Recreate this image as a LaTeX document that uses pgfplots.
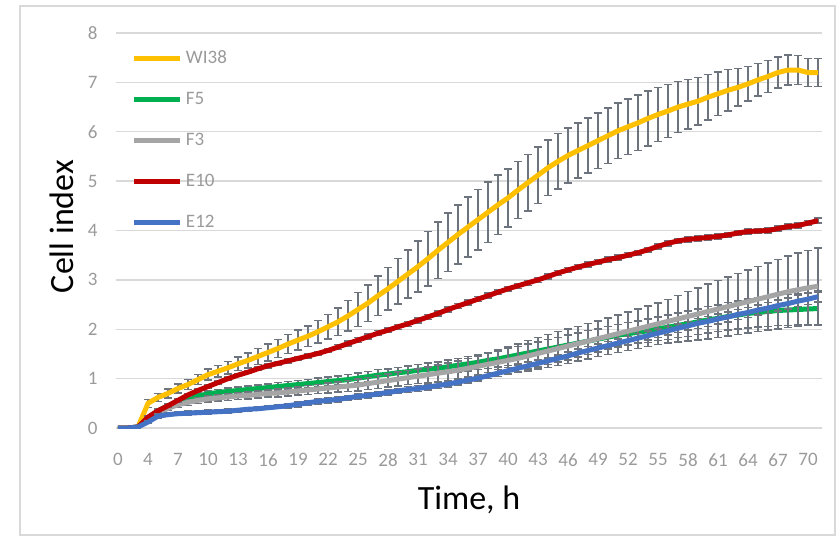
\documentclass[border=0pt]{standalone}
\usepackage{fontspec}
\setmainfont{Carlito}
\usepackage{pgfplots}
\usepackage{pgfplotstable}
\pgfplotsset{compat=1.18}
\definecolor{cw}{HTML}{FFC000}
\definecolor{cg}{HTML}{00B050}
\definecolor{cf}{HTML}{A5A5A5}
\definecolor{cr}{HTML}{C00000}
\definecolor{cb}{HTML}{4472C4}
\definecolor{ebc}{HTML}{6E747E}
\definecolor{gridc}{HTML}{D9D9D9}
\definecolor{tickc}{HTML}{9A9A9A}
\definecolor{framec}{HTML}{D9D9D9}
\pgfplotstableread{
p w we g ge f fe r re b be
0 0 0 0 0 0 0 0 0 0 0
1 0 0 0 0 0 0 0 0 0 0
2 0.02 0 0.02 0 0.02 0 0.02 0 0.02 0
3 0.50 0.08 0.20 0.04 0.15 0.04 0.22 0.03 0.12 0.03
4 0.62 0.08 0.35 0.05 0.30 0.05 0.35 0.03 0.24 0.04
5 0.70 0.09 0.45 0.05 0.40 0.05 0.45 0.03 0.27 0.04
6 0.80 0.09 0.53 0.05 0.47 0.05 0.56 0.03 0.29 0.04
7 0.88 0.10 0.60 0.06 0.52 0.06 0.67 0.03 0.30 0.04
8 0.98 0.10 0.65 0.06 0.56 0.06 0.76 0.03 0.31 0.04
9 1.08 0.11 0.69 0.06 0.59 0.06 0.84 0.03 0.32 0.04
10 1.15 0.12 0.72 0.06 0.61 0.06 0.92 0.03 0.33 0.04
11 1.22 0.13 0.74 0.07 0.63 0.07 1.00 0.03 0.34 0.04
12 1.30 0.14 0.76 0.07 0.65 0.07 1.07 0.03 0.36 0.04
13 1.37 0.15 0.78 0.07 0.66 0.07 1.13 0.03 0.38 0.04
14 1.45 0.16 0.80 0.07 0.68 0.07 1.20 0.04 0.39 0.04
15 1.53 0.17 0.82 0.07 0.70 0.07 1.26 0.04 0.41 0.04
16 1.61 0.18 0.84 0.08 0.71 0.08 1.31 0.04 0.43 0.04
17 1.70 0.19 0.86 0.08 0.73 0.08 1.36 0.04 0.45 0.04
18 1.78 0.20 0.88 0.08 0.75 0.08 1.41 0.04 0.48 0.05
19 1.86 0.21 0.90 0.08 0.77 0.09 1.46 0.04 0.51 0.05
20 1.95 0.23 0.92 0.09 0.79 0.09 1.51 0.04 0.54 0.05
21 2.05 0.25 0.94 0.09 0.81 0.10 1.57 0.04 0.56 0.05
22 2.15 0.28 0.96 0.09 0.83 0.10 1.64 0.05 0.58 0.05
23 2.27 0.31 0.98 0.10 0.85 0.11 1.71 0.05 0.61 0.05
24 2.40 0.34 1.01 0.10 0.87 0.12 1.78 0.05 0.64 0.05
25 2.53 0.37 1.04 0.10 0.90 0.12 1.85 0.05 0.66 0.05
26 2.68 0.40 1.07 0.11 0.93 0.13 1.92 0.05 0.69 0.05
27 2.82 0.43 1.09 0.11 0.96 0.13 1.98 0.05 0.72 0.05
28 2.97 0.46 1.12 0.11 0.99 0.14 2.05 0.05 0.75 0.05
29 3.12 0.49 1.14 0.12 1.02 0.14 2.11 0.05 0.78 0.06
30 3.27 0.52 1.17 0.12 1.05 0.15 2.18 0.05 0.80 0.06
31 3.43 0.55 1.19 0.13 1.08 0.16 2.25 0.05 0.83 0.06
32 3.60 0.57 1.21 0.13 1.11 0.17 2.32 0.05 0.86 0.06
33 3.76 0.59 1.24 0.14 1.14 0.18 2.40 0.05 0.89 0.06
34 3.92 0.60 1.27 0.14 1.17 0.19 2.47 0.05 0.93 0.06
35 4.07 0.61 1.30 0.15 1.21 0.20 2.54 0.05 0.97 0.06
36 4.22 0.61 1.33 0.15 1.25 0.21 2.61 0.05 1.01 0.06
37 4.37 0.61 1.37 0.16 1.29 0.23 2.68 0.05 1.06 0.06
38 4.52 0.60 1.40 0.16 1.33 0.25 2.75 0.05 1.11 0.07
39 4.66 0.59 1.44 0.17 1.37 0.27 2.82 0.05 1.16 0.07
40 4.82 0.58 1.48 0.17 1.41 0.29 2.88 0.05 1.21 0.07
41 4.97 0.57 1.52 0.18 1.46 0.31 2.94 0.05 1.26 0.07
42 5.12 0.57 1.56 0.18 1.51 0.32 3.00 0.05 1.31 0.07
43 5.27 0.56 1.60 0.19 1.56 0.33 3.07 0.05 1.36 0.07
44 5.40 0.56 1.64 0.19 1.61 0.34 3.14 0.05 1.41 0.07
45 5.52 0.56 1.68 0.20 1.66 0.35 3.20 0.05 1.46 0.08
46 5.62 0.56 1.72 0.20 1.71 0.35 3.26 0.05 1.52 0.08
47 5.72 0.56 1.76 0.21 1.76 0.36 3.31 0.05 1.57 0.08
48 5.82 0.56 1.80 0.21 1.81 0.36 3.36 0.05 1.62 0.08
49 5.92 0.56 1.84 0.22 1.86 0.37 3.41 0.05 1.67 0.08
50 6.02 0.56 1.88 0.22 1.91 0.38 3.45 0.05 1.72 0.08
51 6.10 0.56 1.91 0.23 1.96 0.39 3.50 0.05 1.77 0.08
52 6.18 0.56 1.94 0.23 2.01 0.40 3.55 0.05 1.82 0.09
53 6.27 0.56 1.97 0.24 2.06 0.41 3.61 0.05 1.87 0.09
54 6.35 0.55 2.01 0.24 2.11 0.42 3.68 0.05 1.92 0.09
55 6.42 0.54 2.04 0.25 2.16 0.44 3.74 0.05 1.97 0.09
56 6.50 0.52 2.08 0.25 2.21 0.47 3.79 0.05 2.02 0.09
57 6.56 0.50 2.11 0.26 2.26 0.50 3.82 0.05 2.07 0.09
58 6.62 0.48 2.15 0.26 2.31 0.53 3.84 0.05 2.12 0.10
59 6.70 0.46 2.19 0.27 2.36 0.56 3.86 0.05 2.16 0.10
60 6.77 0.44 2.22 0.27 2.41 0.58 3.88 0.05 2.21 0.10
61 6.84 0.42 2.26 0.28 2.46 0.60 3.91 0.05 2.25 0.10
62 6.90 0.38 2.29 0.28 2.51 0.62 3.95 0.05 2.30 0.10
63 6.97 0.35 2.32 0.29 2.56 0.64 3.98 0.05 2.34 0.10
64 7.05 0.33 2.34 0.29 2.61 0.66 3.99 0.05 2.39 0.10
65 7.12 0.32 2.36 0.30 2.66 0.68 4.00 0.05 2.43 0.11
66 7.20 0.31 2.38 0.30 2.71 0.70 4.04 0.05 2.48 0.11
67 7.25 0.30 2.39 0.31 2.76 0.72 4.08 0.05 2.52 0.11
68 7.25 0.29 2.40 0.31 2.80 0.74 4.10 0.05 2.57 0.11
69 7.20 0.28 2.41 0.32 2.84 0.76 4.15 0.05 2.61 0.11
70 7.20 0.28 2.42 0.32 2.87 0.78 4.20 0.05 2.66 0.11
}\data
\pgfplotsset{
  ebars/.style={forget plot, draw=none, mark=none, restrict x to domain=3:70,
    error bars/.cd, y dir=both, y explicit,
    error bar style={draw=ebc, line width=1.5bp},
    error mark options={rotate=90, draw=ebc, mark size=4bp, line width=1.5bp}},
}
\begin{document}
\begin{tikzpicture}
\begin{axis}[
  scale only axis, width=706bp, height=395bp,
  xmin=-0.2, xmax=70.4, ymin=0, ymax=8,
  axis line style={draw=none},
  tick style={draw=none},
  ymajorgrids, grid style={color=gridc, line width=1.3bp},
  xtick={0,3,...,69},
  xticklabels={0,4,7,10,13,16,19,22,25,28,31,34,37,40,43,46,49,52,55,58,61,64,67,70},
  ytick={0,1,...,8},
  /pgf/number format/assume math mode=true,
  ticklabel style={font=\fontsize{19bp}{22bp}\selectfont, text=tickc},
  yticklabel style={xshift=-15bp},
  xticklabel style={yshift=-22bp},
  xlabel={Time, h}, ylabel={Cell index},
  label style={font=\fontsize{34bp}{40bp}\selectfont, text=black},
  xlabel style={at={(axis description cs:0.5,-0.2065)}, anchor=base},
  ylabel style={at={(axis description cs:-0.0609,0.51)}, anchor=base},
  legend cell align=left,
  legend image code/.code={\draw[#1, line width=5bp] (0bp,0bp) -- (46bp,0bp); \path (49bp,0bp);},
  legend style={at={(axis description cs:0,1)}, anchor=north west, xshift=16bp, yshift=-16bp,
    draw=none, fill=none, inner sep=0pt, outer sep=0pt, row sep=23bp, column sep=0pt,
    font=\fontsize{19bp}{22bp}\selectfont, text=tickc,
    nodes={inner sep=0pt, text height=14bp, text depth=4bp}},
]
\addplot[ebars] table[x=p, y=w, y error=we]{\data};
\addplot[cw, line width=5bp, mark=none] table[x=p, y=w]{\data};
\addlegendentry{WI38}
\addplot[ebars] table[x=p, y=g, y error=ge]{\data};
\addplot[cg, line width=5bp, mark=none] table[x=p, y=g]{\data};
\addlegendentry{F5}
\addplot[ebars] table[x=p, y=f, y error=fe]{\data};
\addplot[cf, line width=5bp, mark=none] table[x=p, y=f]{\data};
\addlegendentry{F3}
\addplot[ebars] table[x=p, y=r, y error=re]{\data};
\addplot[cr, line width=5bp, mark=none] table[x=p, y=r]{\data};
\addlegendentry{E10}
\addplot[ebars] table[x=p, y=b, y error=be]{\data};
\addplot[cb, line width=5bp, mark=none] table[x=p, y=b]{\data};
\addlegendentry{E12}
\end{axis}
\draw[framec, line width=1.2bp] ([shift={(-96bp,-107bp)}]current axis.south west) rectangle ([shift={(719bp,422bp)}]current axis.south west);
\pgfresetboundingbox
\path[use as bounding box] ([shift={(-116bp,-108bp)}]current axis.south west) rectangle ([shift={(720bp,428bp)}]current axis.south west);
\end{tikzpicture}
\end{document}
